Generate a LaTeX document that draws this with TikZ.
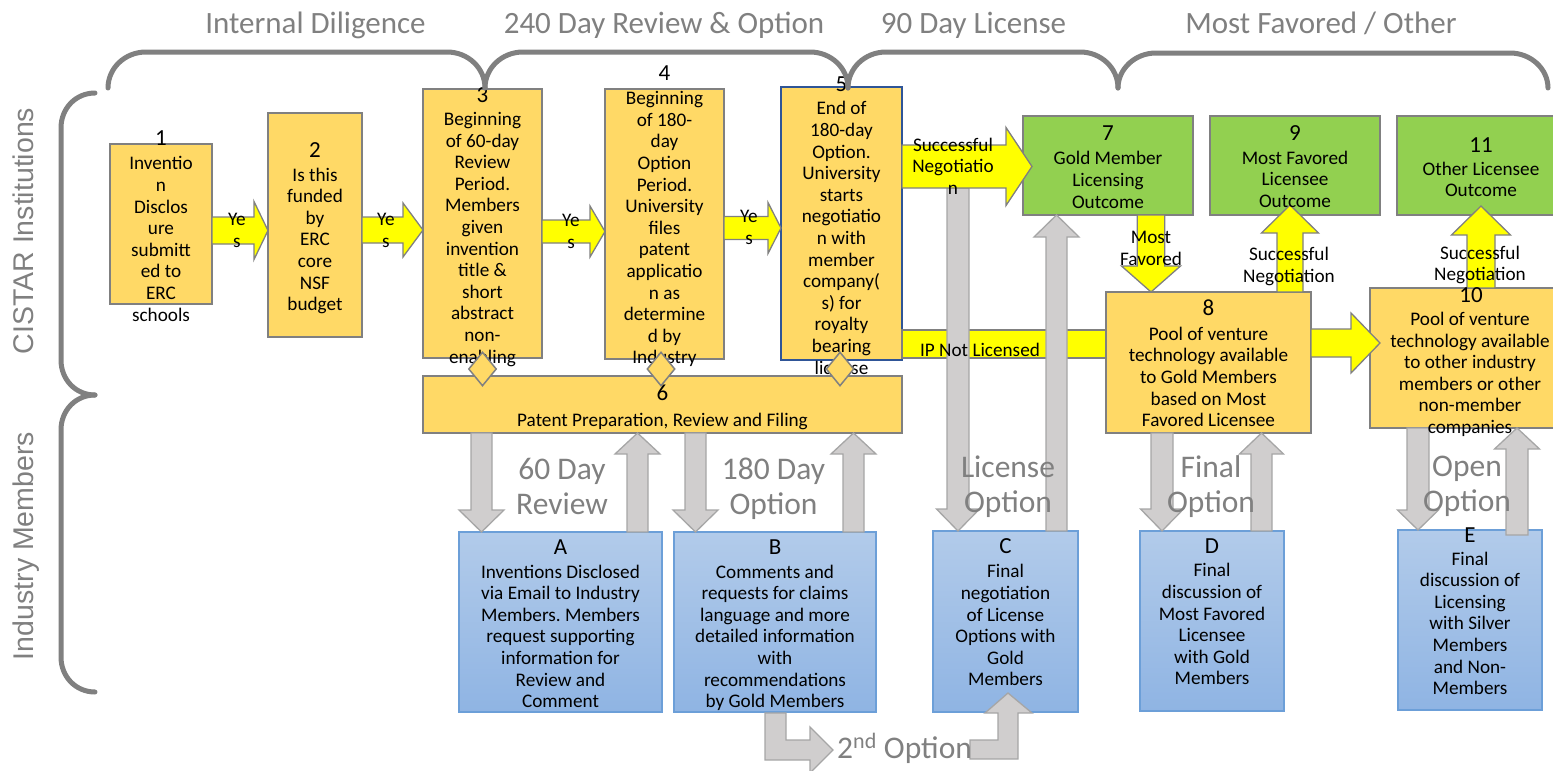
\documentclass[tikz,border=0pt]{standalone}
\usepackage{fontspec}
\setmainfont{Carlito}
\newfontfamily\sidefont{Liberation Sans}
\usetikzlibrary{calc,shapes.geometric}
\frenchspacing
\definecolor{boxyellow}{HTML}{FFD966}
\definecolor{boxgreen}{HTML}{92D050}
\definecolor{arrowyellow}{HTML}{FFFF00}
\definecolor{edgegray}{HTML}{808080}
\definecolor{arrowgray}{HTML}{D0CECE}
\definecolor{arrowedge}{HTML}{A6A6A6}
\definecolor{bluetop}{HTML}{B2CBEA}
\definecolor{bluebot}{HTML}{8FB4E3}
\definecolor{blueedge}{HTML}{6C9FD8}
\definecolor{darkblue}{HTML}{2F5597}
\definecolor{labelgray}{HTML}{808080}
% fat block arrows: style, start, tip, shaft half width, head half width, head length
\newcommand\fatright[6]{\filldraw[#1] let \p1=#2, \p2=#3 in
 (\x1,\y1+#4pt) -- (\x2-#6pt,\y1+#4pt) -- (\x2-#6pt,\y1+#5pt) -- (\x2,\y1) --
 (\x2-#6pt,\y1-#5pt) -- (\x2-#6pt,\y1-#4pt) -- (\x1,\y1-#4pt) -- cycle;}
\newcommand\fatdown[6]{\filldraw[#1] let \p1=#2, \p2=#3 in
 (\x1-#4pt,\y1) -- (\x1-#4pt,\y2+#6pt) -- (\x1-#5pt,\y2+#6pt) -- (\x1,\y2) --
 (\x1+#5pt,\y2+#6pt) -- (\x1+#4pt,\y2+#6pt) -- (\x1+#4pt,\y1) -- cycle;}
\newcommand\fatup[6]{\filldraw[#1] let \p1=#2, \p2=#3 in
 (\x1-#4pt,\y1) -- (\x1-#4pt,\y2-#6pt) -- (\x1-#5pt,\y2-#6pt) -- (\x1,\y2) --
 (\x1+#5pt,\y2-#6pt) -- (\x1+#4pt,\y2-#6pt) -- (\x1+#4pt,\y1) -- cycle;}
\begin{document}
\begin{tikzpicture}[x=1pt,y=-1pt,
 sz/.style 2 args={minimum width=#1pt,minimum height=#2pt},
 ybox/.style={draw=edgegray,line width=2.5pt,fill=boxyellow,inner sep=0pt,outer sep=0pt},
 gbox/.style={draw=edgegray,line width=2.5pt,fill=boxgreen,inner sep=0pt,outer sep=0pt},
 bbox/.style={draw=blueedge,line width=1.3pt,top color=bluetop,bottom color=bluebot,inner sep=0pt,outer sep=0pt},
 dia/.style={diamond,draw=edgegray,line width=1.5pt,fill=boxyellow,inner sep=0pt,minimum width=28pt,minimum height=34pt},
 txt/.style={font=\fontsize{19.2}{21.6}\selectfont,align=center,inner sep=0pt,yshift=-3pt,
   execute at begin node=\strut,execute at end node=\strut},
 num/.style={font=\fontsize{23}{26}\selectfont,inner sep=0pt},
 big/.style={font=\fontsize{31.5}{35}\selectfont,text=labelgray,align=center,inner sep=0pt,yshift=-4pt,
   execute at begin node=\strut,execute at end node=\strut},
 head/.style={font=\fontsize{31}{35}\selectfont,text=labelgray,inner sep=0pt,anchor=base},
 side/.style={font=\sidefont\fontsize{28.5}{32}\selectfont,text=labelgray,inner sep=0pt,anchor=base,rotate=90},
 yarr/.style={fill=arrowyellow,draw=edgegray,line width=1.3pt},
 garr/.style={fill=arrowgray,draw=arrowedge,line width=1.3pt},
 bracket/.style={draw=labelgray,line width=5pt,line cap=round}]
\useasboundingbox (0,0) rectangle (1553,771);
\clip (0,0) rectangle (1553,771);

% ---- left row of yellow boxes
\node[ybox,sz={102}{160}] (b1) at (161,224) {};
\node[ybox,sz={94}{224}] (b2) at (315,225) {};
\node[ybox,sz={119}{269}] (b3) at (482.5,223.5) {};
\node[ybox,sz={119}{270}] (b4) at (664.5,224) {};
\node[ybox,draw=darkblue,sz={121}{273}] (b5) at (841.5,223.5) {};

\fatright{yarr}{(b1.east |- 0,230.5)}{(b2.west |- 0,230.5)}{13.5}{29}{14}
\fatright{yarr}{(b2.east |- 0,230)}{(b3.west |- 0,230)}{13}{27}{20}
\fatright{yarr}{(b3.east |- 0,231.5)}{(b4.west |- 0,231.5)}{11.5}{25.5}{15}
\fatright{yarr}{(b4.east |- 0,228)}{(b5.west |- 0,228)}{11.5}{25.5}{13}

\node[num] (n1) at (161,138) {1};
\node[txt] (t1) at (161,239) {Inventio\\n\\Disclos\\ure\\submitt\\ed to\\ERC\\schools};
\node[num] (n2) at (315,150) {2};
\node[txt] (t2) at (315,239.5) {Is this\\funded\\by\\ERC\\core\\NSF\\budget};
\node[num] (n3) at (482.5,95) {3};
\node[txt] (t3) at (482.5,238) {Beginning\\of 60-day\\Review\\Period.\\Members\\given\\invention\\title \&\\short\\abstract\\non-\\enabling};
\node[num] (n4) at (664.5,73) {4};
\node[txt] (t4) at (664.5,228) {Beginning\\of 180-\\day\\Option\\Period.\\University\\files\\patent\\applicatio\\n as\\determine\\d by\\Industry};
\node[num] (n5) at (841.5,84) {5};
\node[txt] (t5) at (841.5,238) {End of\\180-day\\Option.\\University\\starts\\negotiatio\\n with\\member\\company(\\s) for\\royalty\\bearing\\license};

\node[txt] (y12) at (237,230.5) {Ye\\s};
\node[txt] (y23) at (386,230.5) {Ye\\s};
\node[txt] (y34) at (571,231.5) {Ye\\s};
\node[txt] (y45) at (749,227.5) {Ye\\s};

% ---- box 6
\node[ybox,sz={479}{57}] (b6) at (662.5,404.5) {};
\node[num] (n6) at (662.5,393) {6};
\node[txt] (t6) at (662.5,419) {Patent Preparation, Review and Filing};
\node[dia] (d3) at (482.5,369) {};
\node[dia] (d4) at (661,369) {};
\node[dia] (d5) at (840,369) {};

% ---- right side boxes
\node[gbox,sz={170}{99}] (b7) at (1108,165.5) {};
\node[gbox,sz={170}{99}] (b9) at (1295,165.5) {};
\node[gbox,sz={168}{99}] (b11) at (1481,165.5) {};
\node[ybox,sz={205}{141}] (b8) at (1208.5,362.5) {};
\node[ybox,sz={200}{140}] (b10) at (1470,358) {};

% ---- industry member boxes
\node[bbox,sz={203}{180}] (bA) at (560.5,622) {};
\node[bbox,sz={202}{180}] (bB) at (775,622) {};
\node[bbox,sz={145}{181}] (bC) at (1005.5,621.5) {};
\node[bbox,sz={144}{180}] (bD) at (1212,621) {};
\node[bbox,sz={144}{180}] (bE) at (1470,620) {};

% IP not licensed bar
\filldraw[yarr] (b5.east |- 0,330) rectangle (b8.west |- 0,358);

% ---- gray arrows
\coordinate (s5C) at (958,188);
\coordinate (sE) at (1517,535);
\fatdown{garr}{(s5C)}{(bC.north -| 958,0)}{11}{21.5}{22}
\fatup{garr}{(bC.north -| 1056.5,0)}{(b7.south -| 1056.5,0)}{10.5}{22.5}{22}
\fatdown{garr}{(b6.south -| 481.5,0)}{(bA.north -| 481.5,0)}{10.5}{22.5}{22}
\fatup{garr}{(bA.north -| 637.5,0)}{(b6.south -| 637.5,0)}{10.5}{22.5}{21}
\fatdown{garr}{(b6.south -| 695.5,0)}{(bB.north -| 695.5,0)}{10.5}{22.5}{22}
\fatup{garr}{(bB.north -| 853.5,0)}{(b6.south -| 853.5,0)}{10.5}{22.5}{21}
\fatdown{garr}{(b8.south -| 1162,0)}{(bD.north -| 1162,0)}{11}{21.5}{22}
\fatup{garr}{(bD.north -| 1261.5,0)}{(b8.south -| 1261.5,0)}{10.5}{22}{21}
\fatdown{garr}{(b10.south -| 1418,0)}{(bE.north -| 1418,0)}{11}{20.5}{20}
\fatup{garr}{(sE)}{(b10.south -| 1517,0)}{11}{22.5}{21}

% 2nd option bent arrows
\filldraw[garr] (765,713) -- (786,713) -- (786,740) -- (810,740) -- (810,727) -- (833,750)
  -- (810,773) -- (810,760) -- (765,760) -- cycle;
\filldraw[garr] (970,740) -- (998,740) -- (998,713) -- (985,713) -- (1008,693) -- (1032,713)
  -- (1018,713) -- (1018,759) -- (970,759) -- cycle;

% ---- yellow arrows on the right
\coordinate (tip57) at (1032,166.5);
\coordinate (tip9) at (1290,205);
\coordinate (tip11) at (1481,206);
\coordinate (tip10) at (1380,343);
\fatright{yarr}{(b5.east |- 0,166.5)}{(tip57)}{21.5}{39}{26}
\fatdown{yarr}{(b7.south -| 1151,0)}{(b8.north -| 1151,0)}{13.7}{29.5}{26}
\fatup{yarr}{(b8.north -| 1290,0)}{(tip9)}{13}{28.5}{28}
\fatup{yarr}{(b10.north -| 1481,0)}{(tip11)}{14}{29.5}{29}
\fatright{yarr}{(b8.east |- 0,343)}{(tip10)}{14}{30}{29}

% ---- texts on the right
\node[num] (n7) at (1108,133) {7};
\node[txt] (t7) at (1108,180) {Gold Member\\Licensing\\Outcome};
\node[num] (n9) at (1295,133) {9};
\node[txt] (t9) at (1295,179.5) {Most Favored\\Licensee\\Outcome};
\node[num] (n11) at (1481,145) {11};
\node[txt] (t11) at (1481,179.5) {Other Licensee\\Outcome};
\node[num] (n8) at (1208.5,308) {8};
\node[txt] (t8) at (1208.5,377) {Pool of venture\\technology available\\to Gold Members\\based on Most\\Favored Licensee};
\node[num] (n10) at (1471,295) {10};
\node[txt] (t10) at (1470,373) {Pool of venture\\technology available\\to other industry\\members or other\\non-member\\companies};

\node[txt] (l57) at (953,166.5) {Successful\\Negotiatio\\n};
\node[txt] (lip) at (980,349) {IP Not Licensed};
\node[txt] (l78) at (1151,248.5) {Most\\Favored};
\node[txt] (l89) at (1289,265) {Successful\\Negotiation};
\node[txt] (l1011) at (1480,263.5) {Successful\\Negotiation};

% ---- blue box texts
\node[num] (nA) at (560.5,547) {A};
\node[txt] (tA) at (560.5,636.5) {Inventions Disclosed\\via Email to Industry\\Members. Members\\request supporting\\information for\\Review and\\Comment};
\node[num] (nB) at (775,547) {B};
\node[txt] (tB) at (775,636.5) {Comments and\\requests for claims\\language and more\\detailed information\\with\\recommendations\\by Gold Members};
\node[num] (nC) at (1005.5,546) {C};
\node[txt] (tC) at (1005.5,625.5) {Final\\negotiation\\of License\\Options with\\Gold\\Members};
\node[num] (nD) at (1212,546) {D};
\node[txt] (tD) at (1212,624.5) {Final\\discussion of\\Most Favored\\Licensee\\with Gold\\Members};
\node[num] (nE) at (1470,535) {E};
\node[txt] (tE) at (1470,623.5) {Final\\discussion of\\Licensing\\with Silver\\Members\\and Non-\\Members};

% ---- gray phase labels
\node[big] (g60) at (562,487.5) {60 Day\\Review};
\node[big] (g180) at (773.5,487.5) {180 Day\\Option};
\node[big] (glic) at (1008,485.5) {License\\Option};
\node[big] (gfin) at (1211,485.5) {Final\\Option};
\node[big] (gopen) at (1467,485.5) {Open\\Option};
\node[font=\fontsize{31.5}{35}\selectfont,text=labelgray,inner sep=0pt,anchor=base west] (g2nd) at (837,758) {2\textsuperscript{nd} Option};

% ---- brackets
\draw[bracket] (108,88) .. controls (108,68) and (125,52) .. (146,52) -- (447,52) .. controls (468,52) and (485,68) .. (485,88);
\draw[bracket] (485,88) .. controls (485,68) and (502,52) .. (523,52) -- (810,52) .. controls (831,52) and (848,68) .. (848,88);
\draw[bracket] (848,88) .. controls (848,68) and (865,52) .. (886,52) -- (1080,52) .. controls (1101,52) and (1118,68) .. (1118,88);
\draw[bracket] (1118,88) .. controls (1118,69) and (1135,53) .. (1156,53) -- (1510,53) .. controls (1531,53) and (1548,69) .. (1548,88);
\draw[bracket] (95,93) .. controls (76,93) and (61,108) .. (61,128) -- (61,360) .. controls (61,380) and (76,395) .. (95,395);
\draw[bracket] (95,395) .. controls (76,395) and (61,410) .. (61,430) -- (61,657) .. controls (61,677) and (76,692) .. (95,692);

% ---- phase headings
\node[head] (h1) at (315.5,33) {Internal Diligence};
\node[head] (h2) at (664,33) {240 Day Review \& Option};
\node[head] (h3) at (973.5,33) {90 Day License};
\node[head] (h4) at (1321,33) {Most Favored / Other};
\node[side] (s1) at (33.5,231) {CISTAR Institutions};
\node[side] (s2) at (33.5,546) {Industry Members};
\end{tikzpicture}
\end{document}
